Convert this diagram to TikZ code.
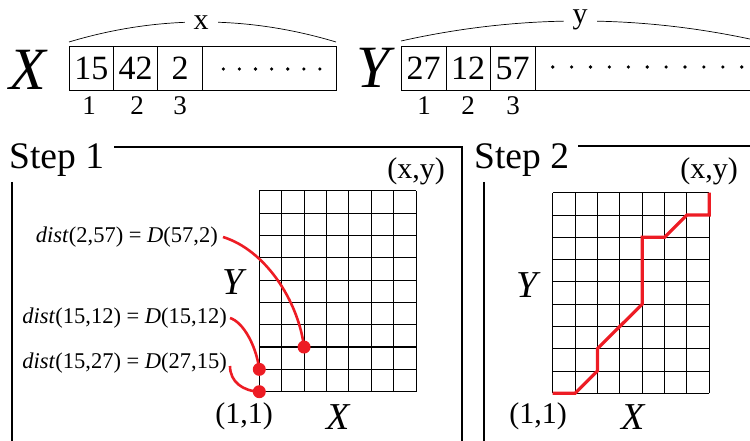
\documentclass[tikz,border=0pt]{standalone}
\usepackage{fontspec}
\setmainfont{Liberation Serif}
\definecolor{myred}{RGB}{237,28,36}
\begin{document}
\begin{tikzpicture}[x=1pt,y=-1pt,
  cell/.style={draw, line width=0.8pt, minimum height=44.4pt, inner sep=0pt, font=\fontsize{34}{34}\selectfont},
  idx/.style={inner sep=0pt, font=\fontsize{27}{27}\selectfont},
  bigl/.style={inner sep=0pt, font=\fontsize{60}{60}\selectfont\itshape},
  bracelbl/.style={fill=white, inner xsep=9pt, inner ysep=3pt, font=\fontsize{30}{30}\selectfont},
  steplbl/.style={inner sep=0pt, anchor=base west, font=\fontsize{37.5}{37.5}\selectfont},
  framel/.style={line width=1.3pt},
  gline/.style={line width=0.9pt},
  coordlbl/.style={inner sep=0pt, font=\fontsize{30}{30}\selectfont},
  axislbl/.style={inner sep=0pt, font=\fontsize{38}{38}\selectfont\itshape},
  eqlbl/.style={inner sep=0pt, anchor=east, font=\fontsize{22.5}{22.5}\selectfont},
  redline/.style={draw=myred, line width=2.6pt},
  reddot/.style={circle, fill=myred, minimum size=13pt, inner sep=0pt},
  boxdot/.style={circle, fill=black, minimum size=3.6pt, inner sep=0pt}]
\useasboundingbox (0,0) rectangle (750,441);
\clip (0,0) rectangle (750,441);

% ---------- X array ----------
\node[bigl] (BX) at (28,70) {X};
\draw[line width=0.7pt] (69,42) .. controls (157.7,15.3) and (247.3,15.3) .. (336,42);
\node[bracelbl] (xlab) at (201,23) {x};
\node[cell, minimum width=44.7pt] (x1) at (91.35,68.5) {15};
\node[cell, minimum width=44pt]   (x2) at (135.7,68.5) {42};
\node[cell, minimum width=44.6pt] (x3) at (180,68.5) {2};
\node[cell, minimum width=133.7pt] (x4) at (269.15,68.5) {};
\foreach \i in {0,...,6} \node[boxdot] (xd\i) at (223.3+16.1*\i,69) {};
\node[idx] (xi1) at (89,106) {1};
\node[idx] (xi2) at (137,106) {2};
\node[idx] (xi3) at (180,106) {3};

% ---------- Y array ----------
\node[bigl] (BY) at (373,68) {Y};
\draw[line width=0.7pt] (401,41) .. controls (520.3,14.3) and (639.7,14.3) .. (759,41);
\node[bracelbl] (ylab) at (580,20) {y};
\node[cell, minimum width=45pt]   (y1) at (423.5,68.5) {27};
\node[cell, minimum width=44.3pt] (y2) at (468.15,68.5) {12};
\node[cell, minimum width=44.7pt] (y3) at (512.65,68.5) {57};
\node[cell, minimum width=255pt]  (y4) at (662.5,68.5) {};
\foreach \i in {0,...,10} \node[boxdot] (yd\i) at (552.7+18.9*\i,67) {};
\node[idx] (yi1) at (424,106) {1};
\node[idx] (yi2) at (468,106) {2};
\node[idx] (yi3) at (513,106) {3};

% ---------- Step 1 ----------
\node[steplbl] (s1) at (9,169) {Step 1};
\draw[framel] (114,147) -- (462,147) -- (462,445);
\draw[framel] (12,182) -- (12,445);
\begin{scope}[shift={(259.3,391.7)}, x=22.38pt, y=22.33pt]
  \foreach \i in {0,...,7} \draw[gline] (\i,0) -- (\i,9);
  \foreach \j in {0,...,9} \draw[gline] (0,\j) -- (7,\j);
  \draw[line width=1.5pt] (0,2) -- (7,2);
  \node[reddot] (d1) at (2,2) {};
  \node[reddot] (d2) at (0,1) {};
  \node[reddot] (d3) at (0,0) {};
\end{scope}
\node[coordlbl] (s1xy) at (416,171) {(x,y)};
\node[coordlbl] (s1oo) at (244,416) {(1,1)};
\node[axislbl] (s1X) at (338,417) {X};
\node[axislbl] (s1Y) at (233,282) {Y};
\node[eqlbl] (e1) at (218,237) {\textit{dist}(2,57) = \textit{D}(57,2)};
\node[eqlbl] (e2) at (227,318) {\textit{dist}(15,12) = \textit{D}(15,12)};
\node[eqlbl] (e3) at (227,363) {\textit{dist}(15,27) = \textit{D}(27,15)};
\draw[redline] ([xshift=5pt]e1.east) .. controls (265,250) and (298,300) .. (d1.center);
\draw[redline] ([xshift=3pt]e2.east) .. controls (243,322) and (256,345) .. (d2.center);
\draw[redline] ([xshift=3pt,yshift=-3pt]e3.east) .. controls (230,382) and (243,391) .. (d3.center);

% ---------- Step 2 ----------
\node[steplbl] (s2) at (474,169) {Step 2};
\draw[framel] (578,146) -- (760,146);
\draw[framel] (484,182) -- (484,445);
\begin{scope}[shift={(552.7,393.3)}, x=22.37pt, y=22.29pt]
  \foreach \i in {0,...,7} \draw[gline] (\i,0) -- (\i,9);
  \foreach \j in {0,...,9} \draw[gline] (0,\j) -- (7,\j);
  \draw[redline, line width=3.2pt] (0,0) -- (1,0) -- (2,1) -- (2,2) -- (4,4) -- (4,7) -- (5,7) -- (6,8) -- (7,8) -- (7,9);
\end{scope}
\node[coordlbl] (s2xy) at (709,171) {(x,y)};
\node[coordlbl] (s2oo) at (538,416) {(1,1)};
\node[axislbl] (s2X) at (633,417) {X};
\node[axislbl] (s2Y) at (527,285) {Y};
\end{tikzpicture}
\end{document}
